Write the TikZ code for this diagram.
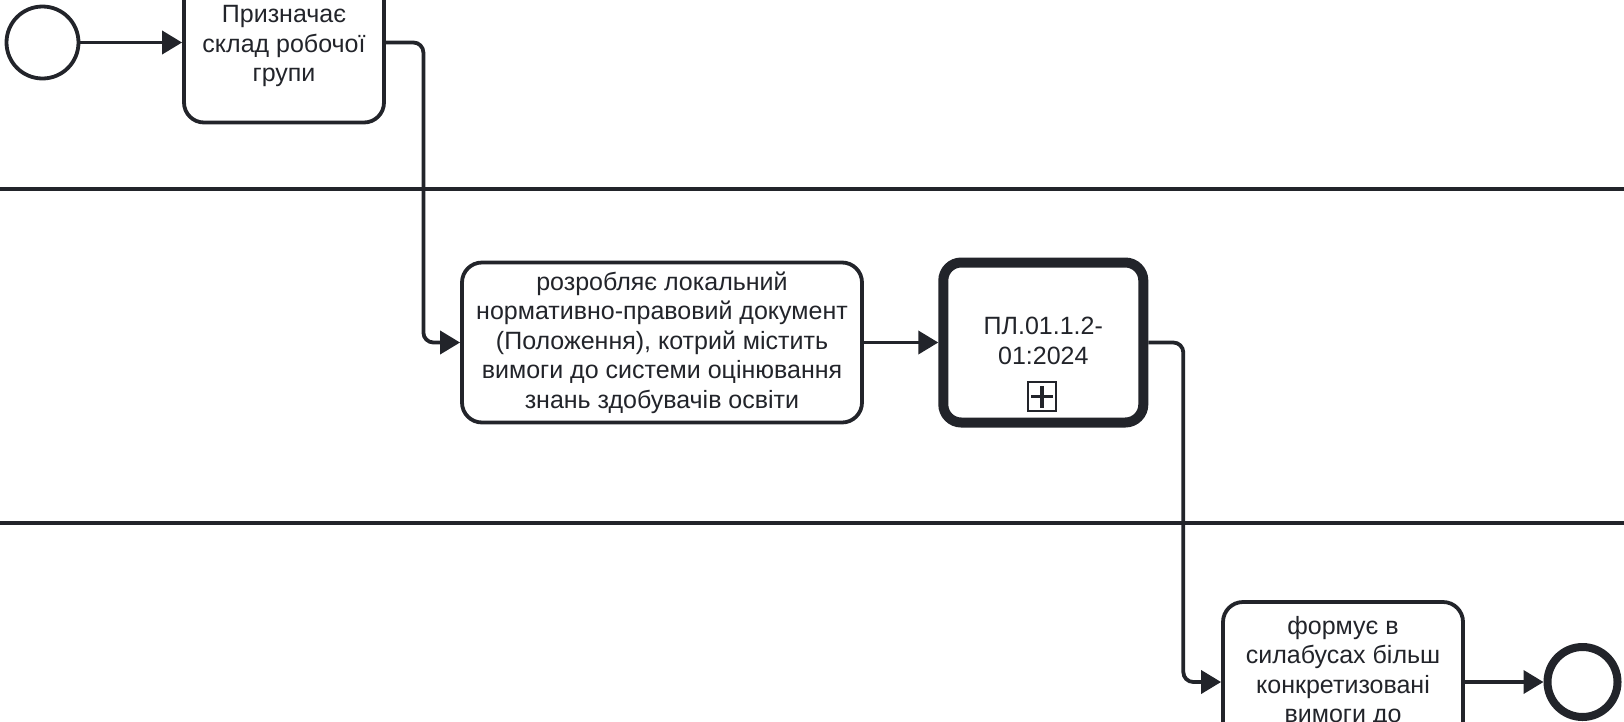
\documentclass[tikz,border=0pt]{standalone}
\usepackage{fontspec}
\setmainfont{Liberation Sans}
\usetikzlibrary{arrows.meta}
\definecolor{ink}{HTML}{22242A}

\tikzset{
  task/.style={draw=ink, line width=3.8pt, fill=white, rounded corners=20pt,
    minimum width=200pt, minimum height=160pt, inner sep=0pt, align=center,
    font=\fontsize{25}{29.5}\selectfont, text=ink},
  callact/.style={task, line width=10pt, rounded corners=18pt},
  event/.style={draw=ink, circle, fill=white, line width=3.8pt, minimum size=72pt, inner sep=0pt},
  endevent/.style={event, line width=8pt, minimum size=70pt},
  flow/.style={draw=ink, line width=3.8pt, rounded corners=10pt, -{Triangle[length=20pt, width=23pt]}},
  lane/.style={draw=ink, line width=3.2pt},
  tasktext/.style={inner sep=0pt, align=center, font=\fontsize{25}{29.5}\selectfont, text=ink}
}

\begin{document}
\begin{tikzpicture}[x=1pt, y=-1pt]
  \useasboundingbox (0,0) rectangle (1624,721);

  % lanes
  \draw[lane] (0,189) -- (1624,189);
  \draw[lane] (0,523) -- (1624,523);

  % events and tasks
  \node[event] (start) at (42.5,42.5) {};
  \node[task] (assign) at (284,42.5) {};
  \node[tasktext] (assigntxt) at (284,46) {Призначає\\склад робочої\\групи};
  \node[task, minimum width=400pt] (draft) at (662,342.5)
    {розробляє локальний\\нормативно-правовий документ\\(Положення), котрий містить\\вимоги до системи оцінювання\\знань здобувачів освіти};
  \node[callact] (plan) at (1043.3,342.5) {};
  \node[tasktext] (plantxt) at (1043.3,341) {ПЛ.01.1.2-\\01:2024};
  \node[draw=ink, line width=1.7pt, minimum width=28pt, minimum height=29pt, inner sep=0pt] (marker) at (1042,396.7) {};
  \draw[ink, line width=3.5pt] ([xshift=-11pt]marker.center) -- ([xshift=11pt]marker.center);
  \draw[ink, line width=3.5pt] ([yshift=-11pt]marker.center) -- ([yshift=11pt]marker.center);
  \node[task, minimum width=240pt] (syllab) at (1343,682) {};
  \node[tasktext, anchor=north] (syllabtxt) at (1343,616)
    {формує в\\силабусах більш\\конкретизовані\\вимоги до};
  \node[endevent] (finish) at (1582.5,682) {};

  % sequence flows
  \draw[flow] (start.east) -- (assign.west);
  \draw[flow] (assign.east) -- ++(37.5,0) |- (draft.west);
  \draw[flow] (draft.east) -- (plan.west);
  \draw[flow] (plan.east) -- ++(35,0) |- (syllab.west);
  \draw[flow] (syllab.east) -- (finish.west);
\end{tikzpicture}
\end{document}
